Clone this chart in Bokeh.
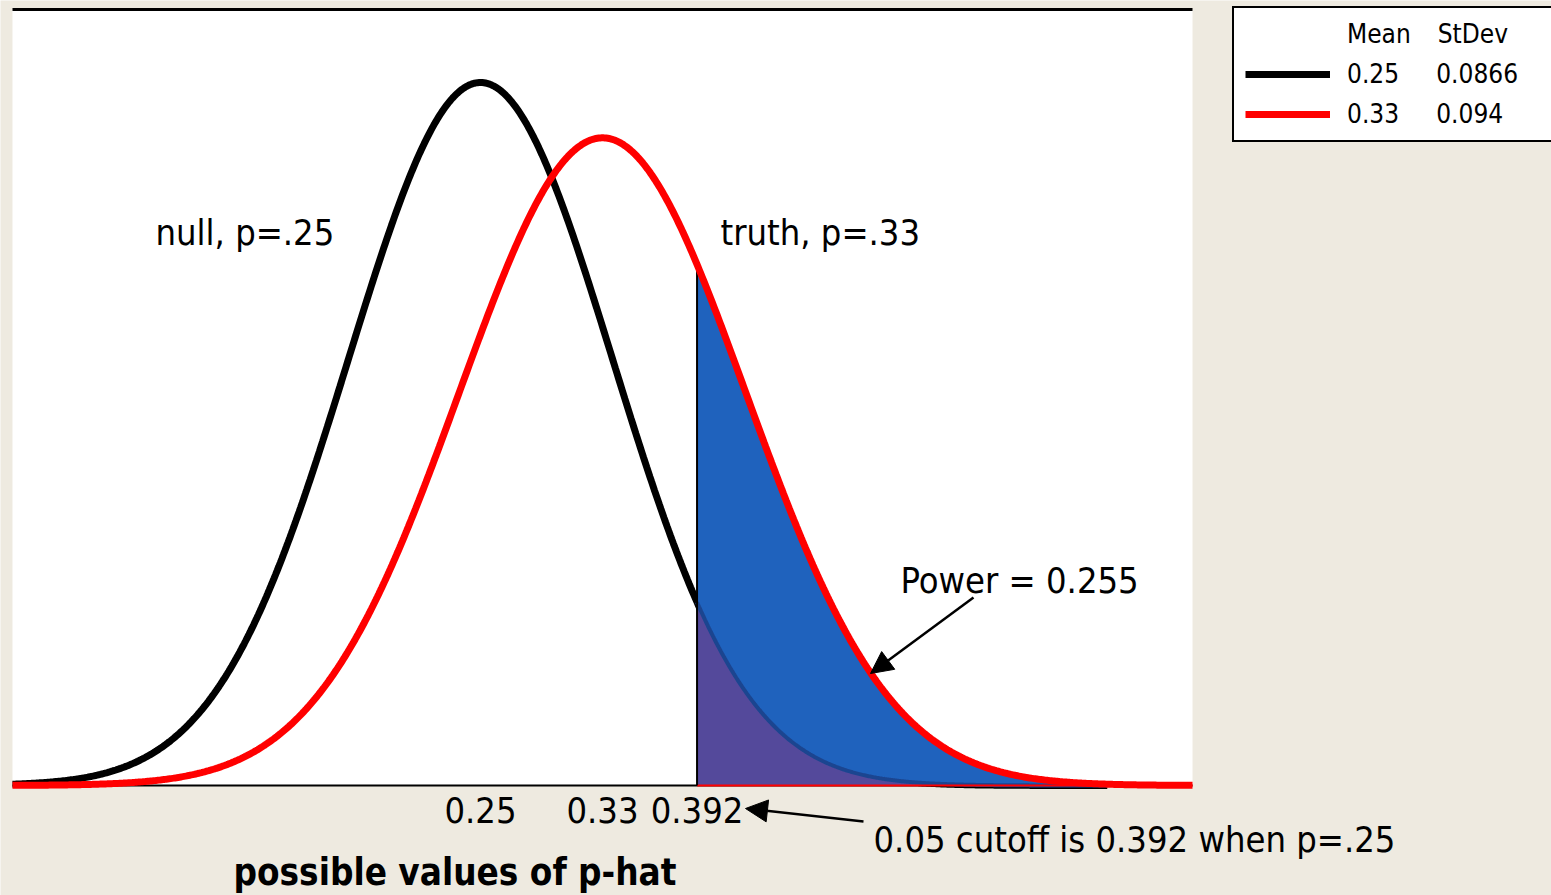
import numpy as np
from bokeh.plotting import figure
from bokeh.models import FixedTicker, Label, Arrow, NormalHead, Legend, LegendItem
from bokeh.embed import file_html
from bokeh.resources import INLINE

# ---------------- data ----------------
series_labels = ["null, p=.25", "truth, p=.33"]
means = [0.25, 0.33]
stdevs = [0.0866, 0.094]
cutoff = 0.392
power = 0.255
tick_values = [0.25, 0.33, 0.392]
tick_labels = ["0.25", "0.33", "0.392"]
x_min, x_max = -0.0569, 0.7169      # extent of the plotted region
null_x_end = 0.661
y_max = 5.085

FONT = "DejaVu Sans Condensed"
BEIGE = "#EEEAE0"
W, H = 1551, 895

# layout in page pixels of the white plotting region
PL, PR, PT, PB = 12, 1192, 9, 785
ppx = (PR - PL) / (x_max - x_min)
ppy = (PB - PT) / y_max
xs0 = x_min - PL / ppx
xs1 = x_max + (W - PR) / ppx
ys0 = -(H - PB) / ppy
ys1 = y_max + PT / ppy
BASE_SHIFT = 13   # label baseline correction in px


def dx(px):
    return xs0 + px / ppx


def dy(py):
    return ys1 - py / ppy


def pdf(x, m, s):
    return np.exp(-0.5 * ((x - m) / s) ** 2) / (s * np.sqrt(2 * np.pi))


p = figure(width=W, height=H, x_range=(xs0, xs1), y_range=(ys0, ys1),
           output_backend="svg", toolbar_location=None, y_axis_location=None,
           min_border=0, background_fill_color=BEIGE,
           border_fill_color=BEIGE, outline_line_color=None)
p.xgrid.grid_line_color = None
p.ygrid.grid_line_color = None

# white plotting region and its top border
p.quad(left=[x_min], right=[x_max], bottom=[0], top=[y_max],
       fill_color="white", line_color=None, level="image")
p.line([x_min, x_max], [y_max, y_max], line_color="black", line_width=3)

# x axis drawn at y = 0 inside the frame
ax = p.xaxis[0]
ax.fixed_location = 0
ax.bounds = (x_min, x_max)
ax.level = "underlay"
ax.ticker = FixedTicker(ticks=tick_values)
ax.major_label_overrides = {v: t for v, t in zip(tick_values, tick_labels)}
ax.major_tick_line_color = None
ax.minor_tick_line_color = None
ax.major_tick_out = 0
ax.major_tick_in = 0
ax.axis_line_width = 2
ax.axis_line_color = "black"
ax.major_label_text_font = FONT
ax.major_label_text_font_size = "36px"
ax.major_label_text_color = "black"
ax.major_label_standoff = 11

# curves
xb = np.linspace(x_min, null_x_end, 700)
xr = np.linspace(x_min, x_max, 800)
yb = pdf(xb, means[0], stdevs[0])
yr = pdf(xr, means[1], stdevs[1])

rb = p.line(xb, yb, line_color="black", line_width=7)

# shaded power region
xs = np.linspace(cutoff, x_max, 500)
p.varea(x=xs, y1=0, y2=pdf(xs, means[1], stdevs[1]), fill_color="#1f62bd")
xs_b = xs[xs <= null_x_end]
p.varea(x=xs_b, y1=0, y2=pdf(xs_b, means[0], stdevs[0]), fill_color="#54499b")
p.line(xs_b, pdf(xs_b, means[0], stdevs[0]), line_color="#1b4590", line_width=4)
p.line([cutoff, x_max], [0, 0], line_color="red", line_width=2)

# cutoff line
p.segment(x0=[cutoff], y0=[0], x1=[cutoff], y1=[pdf(cutoff, means[1], stdevs[1])],
          line_color="black", line_width=2)

rr = p.line(xr, yr, line_color="red", line_width=7)


# text labels
def add_label(text, px, py, size="36px", style="normal"):
    p.add_layout(Label(x=dx(px), y=dy(py - BASE_SHIFT), text=text, text_font=FONT,
                       text_font_size=size, text_font_style=style,
                       text_color="black", text_baseline="alphabetic",
                       text_align="left"))


add_label(series_labels[0], 155, 245)
add_label(series_labels[1], 720, 245)
add_label(f"Power = {power}", 900, 593)
add_label(f"0.05 cutoff is {cutoff} when p=.25", 873, 852)
add_label("possible values of p-hat", 233, 885, size="36.5px", style="bold")

# arrows
p.add_layout(Arrow(end=NormalHead(size=22, fill_color="black", line_color="black"),
                   x_start=dx(973), y_start=dy(597), x_end=dx(870), y_end=dy(673),
                   line_color="black", line_width=2.5))
p.add_layout(Arrow(end=NormalHead(size=22, fill_color="black", line_color="black"),
                   x_start=dx(863), y_start=dy(821), x_end=dx(745), y_end=dy(808),
                   line_color="black", line_width=2.5))

# legend (table style: Mean / StDev)
lh = p.line([], [], line_color=None)
nb = "\u00a0"
items = [
    LegendItem(label="Mean" + nb * 3 + "\u2009" + "StDev", renderers=[lh]),
    LegendItem(label=f"{means[0]}" + nb * 5 + f"{stdevs[0]}", renderers=[rb]),
    LegendItem(label=f"{means[1]}" + nb * 5 + f"{stdevs[1]}", renderers=[rr]),
]
legend = Legend(items=items, location=(1232, H - 142), padding=11, spacing=10,
                glyph_width=85, glyph_height=30, label_height=30, label_width=240,
                label_standoff=17, margin=0, border_line_color="black",
                border_line_width=2, border_line_alpha=1.0,
                background_fill_color="white",
                background_fill_alpha=1.0, label_text_font=FONT,
                label_text_font_size="26px", label_text_color="black")
p.add_layout(legend, "center")

html = file_html(p, INLINE)
open("out.html", "w").write(html)
